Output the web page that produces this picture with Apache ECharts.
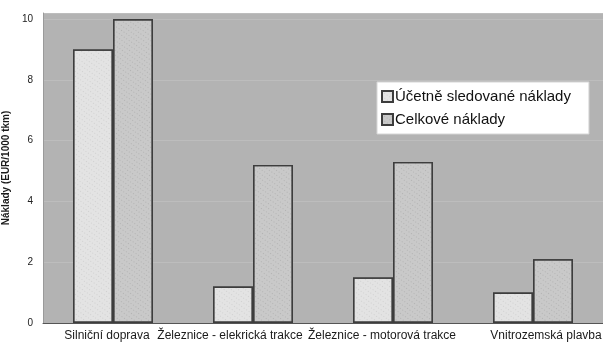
<!DOCTYPE html>
<html>
<head>
<meta charset="utf-8">
<script src="https://cdn.jsdelivr.net/npm/echarts@6/dist/echarts.min.js"></script>
<style>
  html, body { margin: 0; padding: 0; background: #ffffff; }
  #chart { width: 603px; height: 343px; }
</style>
</head>
<body>
<div id="chart"></div>
<script>
// Transport modes on the category axis
var categories = ['Silniční doprava', 'Železnice - elekrická trakce', 'Železnice - motorová trakce', 'Vnitrozemská plavba'];
// Costs in EUR per 1000 tkm
var accountedCosts = [9, 1.2, 1.5, 1.0];
var totalCosts = [10, 5.2, 5.3, 2.1];
var seriesNames = ['Účetně sledované náklady', 'Celkové náklady'];
var yAxisTitle = 'Náklady (EUR/1000 tkm)';
// Horizontal nudge (px) for each category label
var labelShift = [-6, -23, -11, 13];

var FONT = '"Liberation Sans", Arial, sans-serif';

var rich = {};
labelShift.forEach(function (s, i) {
  rich['l' + i] = {
    fontFamily: FONT, fontSize: 12, color: '#1a1a1a',
    padding: s < 0 ? [0, -2 * s, 0, 0] : [0, 0, 0, 2 * s]
  };
});

var chart = echarts.init(document.getElementById('chart'), null, { renderer: 'canvas' });

function grain(color) {
  return {
    symbol: 'rect', symbolSize: 1,
    dashArrayX: [1, 2], dashArrayY: [1, 3],
    rotation: 0.6,
    color: color
  };
}

chart.setOption({
  backgroundColor: '#ffffff',
  animation: false,
  grid: {
    left: 43, right: 0, top: 13, bottom: 20,
    outerBoundsMode: 'none',
    containLabel: false,
    show: true, backgroundColor: '#b3b3b3', borderWidth: 0
  },
  legend: {
    orient: 'vertical',
    left: 377, top: 82,
    backgroundColor: '#ffffff',
    borderColor: '#d6d6d6', borderWidth: 1,
    padding: [7, 18, 7, 4],
    itemGap: 8,
    itemWidth: 11, itemHeight: 11,
    icon: 'rect',
    textStyle: { fontFamily: FONT, fontSize: 15, color: '#111', padding: [0, 0, 0, -3] },
    data: seriesNames
  },
  xAxis: {
    type: 'category',
    data: categories,
    axisLine: { show: true, lineStyle: { color: '#555', width: 1 } },
    axisTick: { show: false },
    axisLabel: {
      interval: 0, margin: 7, hideOverlap: false,
      formatter: function (v) {
        var i = categories.indexOf(v);
        return '{l' + i + '|' + v + '}';
      },
      rich: rich
    },
    splitLine: { show: false }
  },
  yAxis: {
    type: 'value',
    min: 0, max: 10.2, interval: 2,
    name: yAxisTitle,
    nameLocation: 'middle',
    nameGap: 29,
    nameRotate: 90,
    nameTextStyle: { fontFamily: FONT, fontSize: 10, fontWeight: 'bold', color: '#1a1a1a' },
    axisLine: { show: true, lineStyle: { color: '#9a9a9a' } },
    axisTick: { show: false },
    axisLabel: {
      fontFamily: FONT, fontSize: 10, color: '#222', margin: 10,
      showMaxLabel: false,
      formatter: function (v) { return (v % 2 === 0) ? String(v) : ''; }
    },
    splitLine: { show: true, lineStyle: { color: '#bdbdbd', width: 1 } }
  },
  series: [
    {
      name: seriesNames[0],
      type: 'bar',
      data: accountedCosts,
      barWidth: 40,
      barGap: '0%',
      itemStyle: {
        color: '#e3e3e3',
        borderColor: '#3d3d3d', borderWidth: 1.4,
        decal: grain('rgba(120,120,120,0.18)')
      }
    },
    {
      name: seriesNames[1],
      type: 'bar',
      data: totalCosts,
      barWidth: 40,
      itemStyle: {
        color: '#c9c9c9',
        borderColor: '#3d3d3d', borderWidth: 1.4,
        decal: grain('rgba(90,90,90,0.2)')
      }
    }
  ]
});
</script>
</body>
</html>
